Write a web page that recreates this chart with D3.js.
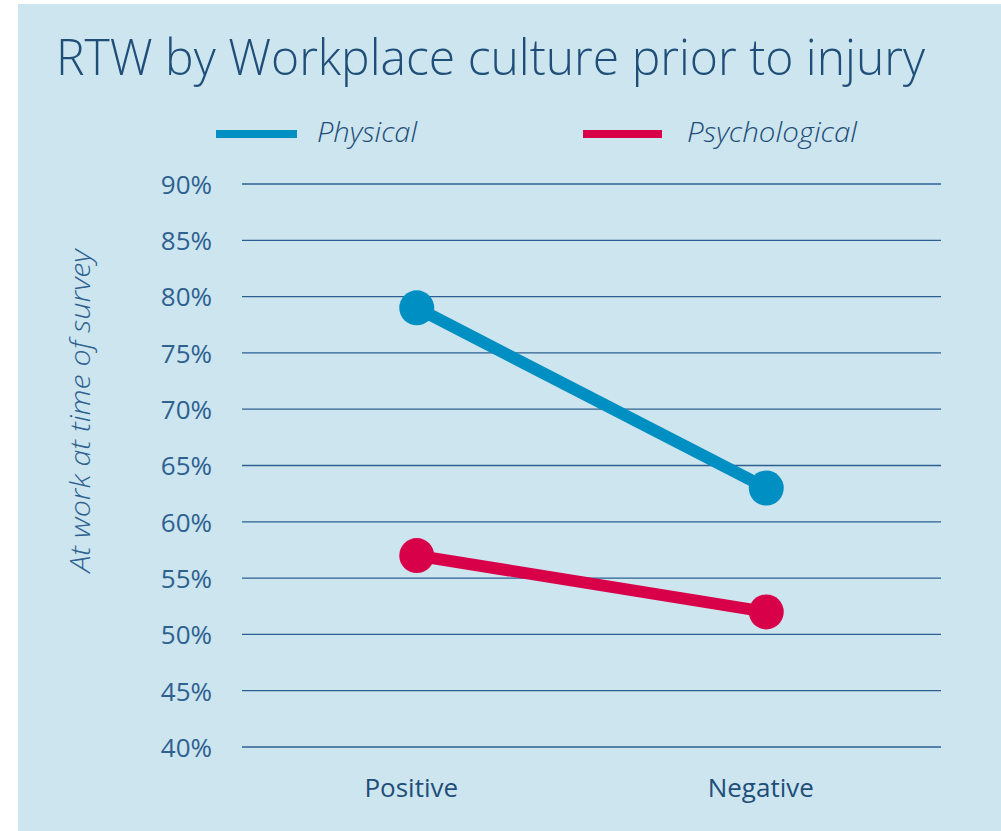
<!DOCTYPE html>
<html>
<head>
<meta charset="utf-8">
<script src="https://cdn.jsdelivr.net/npm/d3@7"></script>
<style>
  html, body { margin: 0; padding: 0; background: #ffffff; }
  svg { display: block; }
</style>
</head>
<body>
<svg id="chart" width="1001" height="831"></svg>
<script>
// chart data
const categories = ["Positive", "Negative"];
const physical = [79, 63];
const psychological = [57, 52];
const seriesNames = ["Physical", "Psychological"];
const yTicks = [40, 45, 50, 55, 60, 65, 70, 75, 80, 85, 90];

const colors = { Physical: "#008fc2", Psychological: "#d9004a" };
const textColor = "#1f4e79";
const bg = "#cce5ef";

const svg = d3.select("#chart");

// background panel
svg.append("rect")
  .attr("x", 18).attr("y", 4)
  .attr("width", 1001 - 18).attr("height", 831 - 4)
  .attr("fill", bg);

const plot = { left: 242, right: 941, top: 184, bottom: 747 };

const x = d3.scalePoint()
  .domain(categories)
  .range([plot.left, plot.right])
  .padding(0.5);

const y = d3.scaleLinear()
  .domain([40, 90])
  .range([plot.bottom, plot.top]);

// gridlines
svg.append("g")
  .selectAll("line")
  .data(yTicks)
  .join("line")
  .attr("x1", plot.left).attr("x2", plot.right)
  .attr("y1", d => y(d)).attr("y2", d => y(d))
  .attr("stroke", "#2d6090")
  .attr("stroke-width", 1.3);

// y axis labels
const yAxis = svg.append("g")
  .attr("transform", `translate(212,0)`)
  .call(d3.axisLeft(y).tickValues(yTicks).tickSize(0).tickPadding(0).tickFormat(d => d + "%"));
yAxis.select(".domain").remove();
yAxis.selectAll("text")
  .attr("font-family", "'Open Sans', sans-serif")
  .attr("font-size", 26)
  .attr("fill", "#2e6190")
  .attr("dy", "0.36em");

// x axis labels
const xAxis = svg.append("g")
  .attr("transform", `translate(0,772)`)
  .call(d3.axisBottom(x).tickSize(0).tickPadding(0));
xAxis.select(".domain").remove();
xAxis.selectAll("text")
  .attr("font-family", "'Open Sans', sans-serif")
  .attr("font-size", 26)
  .attr("font-weight", 500)
  .attr("fill", textColor)
  .attr("dx", -6)
  .attr("dy", "0.98em");

// y axis title
svg.append("text")
  .attr("transform", "translate(90,411) rotate(-90)")
  .attr("text-anchor", "middle")
  .attr("font-family", "'Open Sans', sans-serif")
  .attr("font-style", "italic")
  .attr("font-weight", 300)
  .attr("font-size", 27)
  .attr("textLength", 323)
  .attr("lengthAdjust", "spacingAndGlyphs")
  .attr("fill", "#2e6190")
  .text("At work at time of survey");

// title, fitted to the original width
svg.append("text")
  .attr("x", 56).attr("y", 75)
  .attr("font-family", "'Open Sans', sans-serif")
  .attr("font-weight", 300)
  .attr("font-size", 49)
  .attr("fill", textColor)
  .attr("textLength", 869)
  .attr("lengthAdjust", "spacingAndGlyphs")
  .text("RTW by Workplace culture prior to injury");

// series
const series = [
  { name: "Physical", values: physical },
  { name: "Psychological", values: psychological }
];

const line = d3.line()
  .x((d, i) => x(categories[i]))
  .y(d => y(d));

series.forEach(s => {
  svg.append("path")
    .datum(s.values)
    .attr("d", line)
    .attr("fill", "none")
    .attr("stroke", colors[s.name])
    .attr("stroke-width", 12);
  svg.append("g")
    .selectAll("circle")
    .data(s.values)
    .join("circle")
    .attr("cx", (d, i) => x(categories[i]))
    .attr("cy", d => y(d))
    .attr("r", 17.5)
    .attr("fill", colors[s.name]);
});

// legend
const legendPos = [
  { x1: 216, x2: 297, tx: 317, w: 100 },
  { x1: 583, x2: 662, tx: 687, w: 170 }
];
seriesNames.forEach((name, i) => {
  const p = legendPos[i];
  svg.append("line")
    .attr("x1", p.x1).attr("x2", p.x2)
    .attr("y1", 134).attr("y2", 134)
    .attr("stroke", colors[name])
    .attr("stroke-width", 8);
  svg.append("text")
    .attr("x", p.tx).attr("y", 142)
    .attr("font-family", "'Open Sans', sans-serif")
    .attr("font-style", "italic")
    .attr("font-weight", 300)
    .attr("font-size", 28)
    .attr("textLength", p.w)
    .attr("lengthAdjust", "spacingAndGlyphs")
    .attr("fill", textColor)
    .text(name);
});
</script>
</body>
</html>
